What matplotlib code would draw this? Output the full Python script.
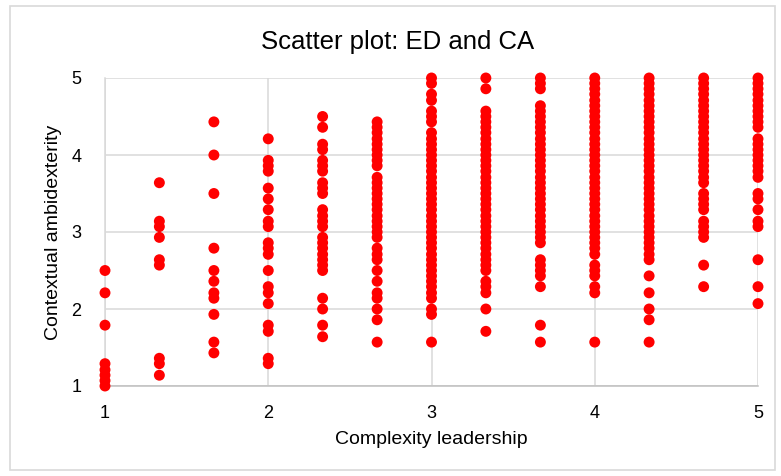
import numpy as np
import matplotlib
matplotlib.use('Agg')
import matplotlib.pyplot as plt
from matplotlib.patches import Rectangle

plt.rcParams['font.family'] = ['Liberation Sans', 'DejaVu Sans']

# Complexity leadership levels (x) and contextual ambidexterity values (y) per level
x_levels = [1.0, 1.333, 1.667, 2.0, 2.333, 2.667, 3.0, 3.333, 3.667, 4.0, 4.333, 4.667, 5.0]

ca_1_00 = [2.50, 2.21, 1.79, 1.29, 1.21, 1.14, 1.07, 1.00]
ca_1_33 = [3.64, 3.14, 3.07, 2.93, 2.64, 2.57, 1.36, 1.29, 1.14]
ca_1_67 = [4.43, 4.00, 3.50, 2.79, 2.50, 2.36, 2.21, 2.14, 1.93, 1.57, 1.43]
ca_2_00 = [4.21, 3.93, 3.86, 3.79, 3.57, 3.43, 3.29, 3.14, 3.07, 2.86, 2.79, 2.71,
           2.50, 2.29, 2.21, 2.07, 1.79, 1.71, 1.36, 1.29]
ca_2_33 = [4.50, 4.36, 4.14, 4.07, 3.93, 3.86, 3.79, 3.64, 3.57, 3.50, 3.29, 3.21,
           3.14, 3.07, 2.93, 2.86, 2.79, 2.71, 2.64, 2.57, 2.50, 2.14, 2.00, 1.79, 1.64]
ca_2_67 = [4.43, 4.36, 4.29, 4.21, 4.14, 4.07, 4.00, 3.93, 3.86, 3.71, 3.64, 3.57,
           3.50, 3.43, 3.36, 3.29, 3.21, 3.14, 3.07, 3.00, 2.93, 2.79, 2.71, 2.64,
           2.50, 2.36, 2.21, 2.14, 2.00, 1.86, 1.57]
ca_3_00 = [5.00, 4.93, 4.79, 4.71, 4.57, 4.50, 4.43, 4.29, 4.21, 4.14, 4.07, 4.00,
           3.93, 3.86, 3.79, 3.71, 3.64, 3.57, 3.50, 3.43, 3.36, 3.29, 3.21, 3.14,
           3.07, 3.00, 2.93, 2.86, 2.79, 2.71, 2.64, 2.57, 2.50, 2.43, 2.36, 2.29,
           2.21, 2.14, 2.00, 1.93, 1.57]
ca_3_33 = [5.00, 4.86, 4.57, 4.50, 4.43, 4.36, 4.29, 4.21, 4.14, 4.07, 4.00, 3.93,
           3.86, 3.79, 3.71, 3.64, 3.57, 3.50, 3.43, 3.36, 3.29, 3.21, 3.14, 3.07,
           3.00, 2.93, 2.86, 2.79, 2.71, 2.64, 2.57, 2.50, 2.36, 2.29, 2.21, 2.00, 1.71]
ca_3_67 = [5.00, 4.93, 4.86, 4.64, 4.57, 4.50, 4.43, 4.36, 4.29, 4.21, 4.14, 4.07,
           4.00, 3.93, 3.86, 3.79, 3.71, 3.64, 3.57, 3.50, 3.43, 3.36, 3.29, 3.21,
           3.14, 3.07, 3.00, 2.93, 2.86, 2.64, 2.57, 2.50, 2.43, 2.29, 1.79, 1.57]
ca_4_00 = [5.00, 4.93, 4.86, 4.79, 4.71, 4.64, 4.57, 4.50, 4.43, 4.36, 4.29, 4.21,
           4.14, 4.07, 4.00, 3.93, 3.86, 3.79, 3.71, 3.64, 3.57, 3.50, 3.43, 3.36,
           3.29, 3.21, 3.14, 3.07, 3.00, 2.93, 2.86, 2.79, 2.71, 2.57, 2.50, 2.43,
           2.29, 2.21, 1.57]
ca_4_33 = [5.00, 4.93, 4.86, 4.79, 4.71, 4.64, 4.57, 4.50, 4.43, 4.36, 4.29, 4.21,
           4.14, 4.07, 4.00, 3.93, 3.86, 3.79, 3.71, 3.64, 3.57, 3.50, 3.43, 3.36,
           3.29, 3.21, 3.14, 3.07, 3.00, 2.93, 2.86, 2.79, 2.71, 2.64, 2.43, 2.21,
           2.00, 1.86, 1.57]
ca_4_67 = [5.00, 4.93, 4.86, 4.79, 4.71, 4.64, 4.57, 4.50, 4.43, 4.36, 4.29, 4.21,
           4.14, 4.07, 4.00, 3.93, 3.86, 3.79, 3.71, 3.64, 3.50, 3.43, 3.36, 3.29,
           3.14, 3.07, 3.00, 2.93, 2.57, 2.29]
ca_5_00 = [5.00, 4.93, 4.86, 4.79, 4.71, 4.64, 4.57, 4.50, 4.43, 4.36, 4.21, 4.14,
           4.07, 4.00, 3.93, 3.86, 3.79, 3.71, 3.50, 3.43, 3.29, 3.14, 3.07, 2.64,
           2.29, 2.07]

columns = [ca_1_00, ca_1_33, ca_1_67, ca_2_00, ca_2_33, ca_2_67, ca_3_00,
           ca_3_33, ca_3_67, ca_4_00, ca_4_33, ca_4_67, ca_5_00]

xs = np.concatenate([[xv] * len(col) for xv, col in zip(x_levels, columns)])
ys = np.concatenate(columns)

fig = plt.figure(figsize=(7.81, 4.76), dpi=100)
ax = fig.add_axes([105 / 781, 1 - 386 / 476, (758 - 105) / 781, (386 - 78) / 476])

# outer chart border like Excel
fig.patches.append(Rectangle((10 / 781, 6 / 476), 765 / 781, 464 / 476,
                             transform=fig.transFigure, fill=False,
                             edgecolor='#d9d9d9', linewidth=1.2))

ax.scatter(xs, ys, s=62, color='#ff0000', edgecolors='none', zorder=3, clip_on=False)

ax.set_xlim(1, 5)
ax.set_ylim(1, 5)
ax.set_xticks([1, 2, 3, 4, 5])
ax.set_yticks([1, 2, 3, 4, 5])
ax.grid(True, color='#d9d9d9', linewidth=1.1)
ax.set_axisbelow(True)
for side in ['top', 'right']:
    ax.spines[side].set_visible(False)
ax.spines['left'].set_color('#d9d9d9')
ax.spines['bottom'].set_color('#bfbfbf')
ax.spines['left'].set_linewidth(1.1)
ax.spines['bottom'].set_linewidth(1.1)
ax.tick_params(length=0, labelsize=13, colors='#000000')
ax.tick_params(axis='x', pad=14)
ax.tick_params(axis='y', pad=17)

ax.set_xlabel('Complexity leadership', fontsize=14)
ax.set_ylabel('Contextual ambidexterity', fontsize=14)
ax.xaxis.set_label_coords(0.5, -0.146)
ax.yaxis.set_label_coords(-0.066, 0.5)
fig.text(398 / 781, 1 - 42 / 476, 'Scatter plot: ED and CA', fontsize=18.5,
         ha='center', va='center')

fig.savefig('out.png', dpi=100)
